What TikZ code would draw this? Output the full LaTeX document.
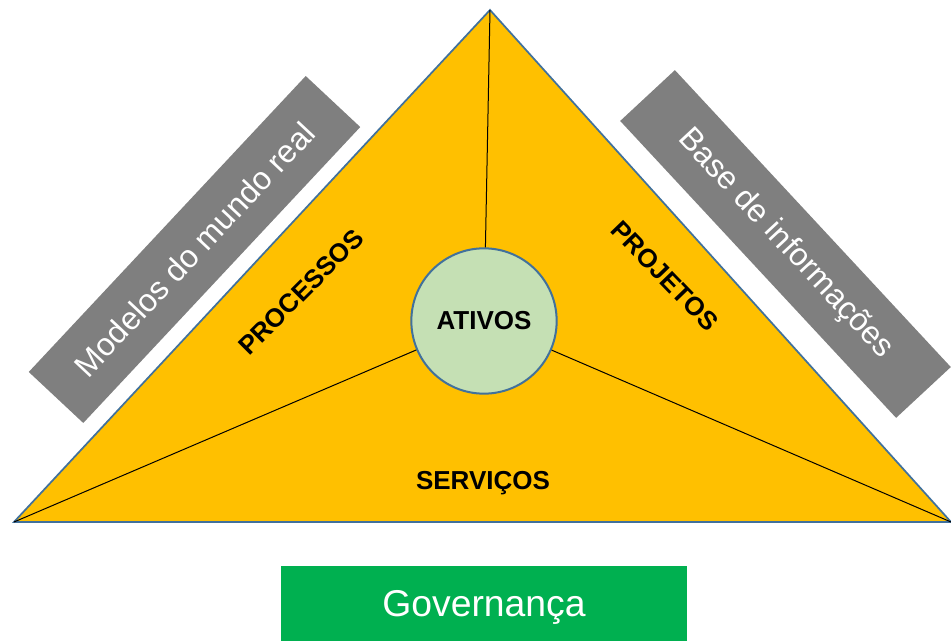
\documentclass[tikz,border=0pt]{standalone}
\usepackage{fontspec}
\setmainfont{Liberation Sans}
\usepackage{tikz}
\definecolor{triyellow}{HTML}{FFC000}
\definecolor{triblue}{HTML}{41719C}
\definecolor{ativogreen}{HTML}{C5E0B4}
\definecolor{bandgray}{HTML}{7F7F7F}
\definecolor{govgreen}{HTML}{00B050}

\begin{document}
\begin{tikzpicture}[x=0.75pt,y=0.75pt,yscale=-1,xscale=1,
        bandbox/.style={fill=bandgray, text=white, inner sep=0pt, minimum width=304pt, minimum height=56pt, font=\fontsize{24}{28}\selectfont},
        sidelabel/.style={inner sep=0.75pt, font=\fontsize{19.5}{22}\selectfont\bfseries}]
        \useasboundingbox (0,0) rectangle (951,641);
        
        %Shape: Triangle
        \coordinate (apex) at (490,10);
        \coordinate (left) at (14,522);
        \coordinate (right) at (951,522);
        \draw [draw=triblue, fill=triyellow, line width=1.3pt] (apex) -- (left) -- (right) -- cycle ;
        
        %Shape: Circle
        \node [sidelabel, circle, draw=triblue, fill=ativogreen, line width=1.5pt, minimum size=109pt] (ativos) at (484,321) {ATIVOS};
        
        %Straight Lines
        \draw [line width=0.75pt] (apex) -- (ativos) ;
        \draw [line width=0.75pt] (left) -- (ativos) ;
        \draw [line width=0.75pt] (right) -- (ativos) ;
        
        % Text Node
        \node [sidelabel, rotate=45] (processos) at (301,292) {PROCESSOS};
        % Text Node
        \node [sidelabel, rotate=-46] (projetos) at (665,276) {PROJETOS};
        % Text Node
        \node [sidelabel] (servicos) at (483,483) {SERVIÇOS};
        
        %Shape: Rectangle
        \node [bandbox, rotate=46.9] (modelos) at (194.5,249.5) {Modelos do mundo real};
        %Shape: Rectangle
        \node [bandbox, rotate=-47.1] (base) at (785.5,244) {Base de informações};
        
        %Shape: Rectangle
        \node [fill=govgreen, text=white, inner sep=0pt, text depth=0pt, minimum width=304.5pt, minimum height=56.25pt, font=\fontsize{28}{30}\selectfont] (governanca) at (484,603.5) {Governança};
        
\end{tikzpicture}
\end{document}
